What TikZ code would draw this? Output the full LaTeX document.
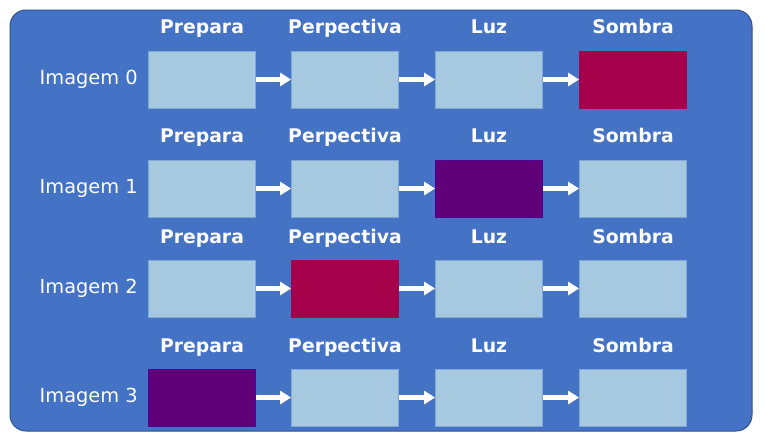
\documentclass[tikz,border=0pt]{standalone}
\usepackage{fontspec}
\setmainfont{DejaVu Sans}
\usetikzlibrary{arrows.meta}
\definecolor{bgblue}{HTML}{4472C4}
\definecolor{bgedge}{HTML}{2F528F}
\definecolor{lightbox}{HTML}{A6C9E0}
\definecolor{lightedge}{HTML}{7FA8D6}
\definecolor{mag}{HTML}{A5004A}
\definecolor{purp}{HTML}{600078}
\tikzset{
  x=1pt, y=-1pt,
  stagebox/.style={minimum width=107pt, minimum height=57pt, inner sep=0pt, draw=lightedge, fill=lightbox, line width=0.8pt},
  magbox/.style={stagebox, fill=mag, draw=mag!80!purple},
  purpbox/.style={stagebox, fill=purp, draw=purp!80!blue},
  hdr/.style={text=white, font=\fontsize{18.8}{20}\selectfont\bfseries, anchor=base, inner sep=0pt},
  rowlbl/.style={text=white, font=\fontsize{19.4}{20}\selectfont, inner sep=0pt, anchor=east},
  flow/.style={draw=white, line width=4.5pt, -{Triangle[length=11pt, width=13pt]}}
}
\begin{document}
\begin{tikzpicture}
\useasboundingbox (0,0) rectangle (765,442);
\fill[white] (0,0) rectangle (765,442);
\draw[fill=bgblue, draw=bgedge, line width=1pt, rounded corners=16pt] (10,10) rectangle (752,431);

% Row 0
\node[stagebox] (a0) at (202,79.5) {};
\node[stagebox] (b0) at (345,79.5) {};
\node[stagebox] (c0) at (489,79.5) {};
\node[magbox]   (d0) at (633,79.5) {};
% Row 1
\node[stagebox] (a1) at (202,188.5) {};
\node[stagebox] (b1) at (345,188.5) {};
\node[purpbox]  (c1) at (489,188.5) {};
\node[stagebox] (d1) at (633,188.5) {};
% Row 2
\node[stagebox] (a2) at (202,288.5) {};
\node[magbox]   (b2) at (345,288.5) {};
\node[stagebox] (c2) at (489,288.5) {};
\node[stagebox] (d2) at (633,288.5) {};
% Row 3
\node[purpbox]  (a3) at (202,397.5) {};
\node[stagebox] (b3) at (345,397.5) {};
\node[stagebox] (c3) at (489,397.5) {};
\node[stagebox] (d3) at (633,397.5) {};

\foreach \i/\base in {0/33, 1/142, 2/243, 3/352} {
  \node[hdr] (ha\i) at (202,\base) {Prepara};
  \node[hdr] (hb\i) at (345,\base) {Perpectiva};
  \node[hdr] (hc\i) at (489,\base) {Luz};
  \node[hdr] (hd\i) at (633,\base) {Sombra};
}

\node[rowlbl] (lab0) at (138,79.5) {Imagem 0};
\node[rowlbl] (lab1) at (138,188.5) {Imagem 1};
\node[rowlbl] (lab2) at (138,288.5) {Imagem 2};
\node[rowlbl] (lab3) at (138,397.5) {Imagem 3};

\foreach \i in {0,1,2,3} {
  \draw[flow] (a\i.east) -- (b\i.west);
  \draw[flow] (b\i.east) -- (c\i.west);
  \draw[flow] (c\i.east) -- (d\i.west);
}
\end{tikzpicture}
\end{document}
